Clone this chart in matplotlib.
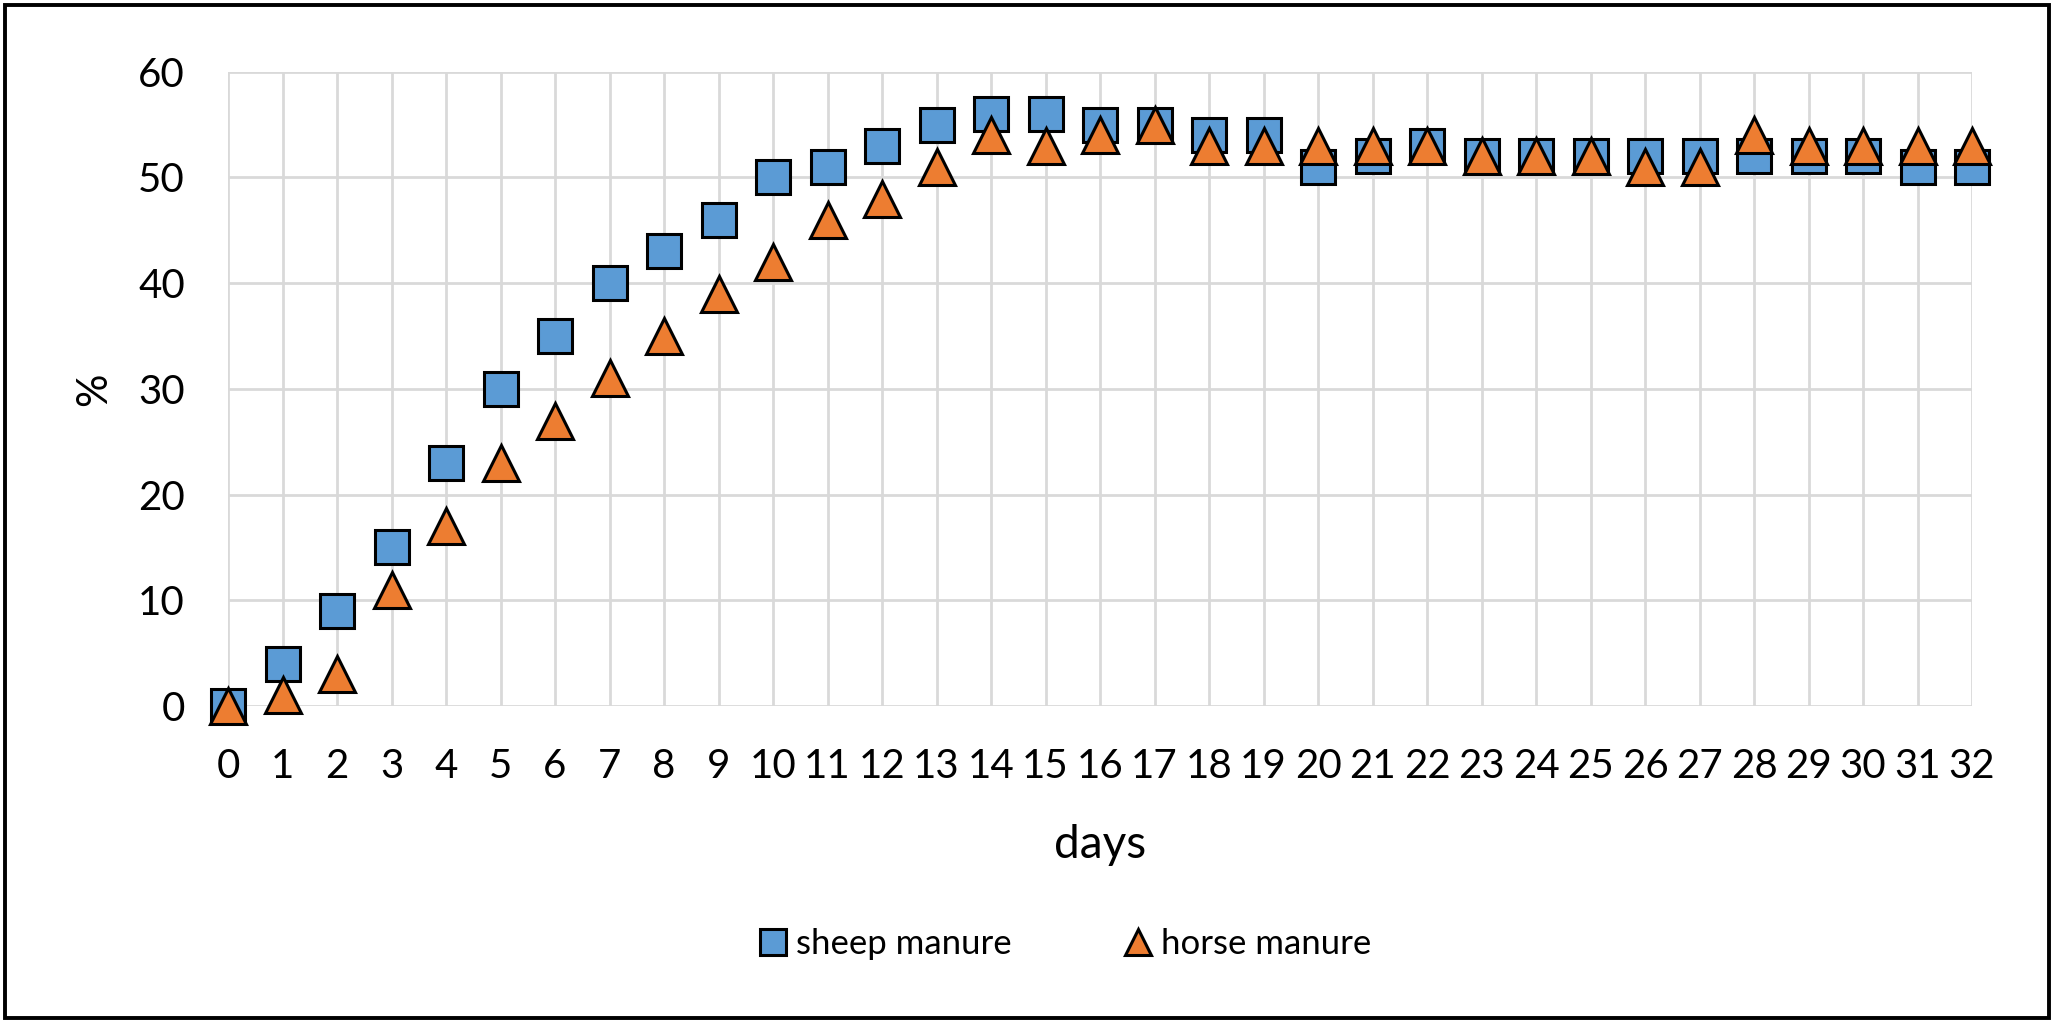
import matplotlib
matplotlib.use("Agg")
import matplotlib.pyplot as plt
from matplotlib.patches import Rectangle

plt.rcParams['font.family'] = ['Lato', 'DejaVu Sans']

# data
days = list(range(33))
sheep = [0, 4, 9, 15, 23, 30, 35, 40, 43, 46, 50, 51, 53, 55, 56, 56, 55,
         55, 54, 54, 51, 52, 53, 52, 52, 52, 52, 52, 52, 52, 52, 51, 51]
horse = [0, 1, 3, 11, 17, 23, 27, 31, 35, 39, 42, 46, 48, 51, 54, 53, 54,
         55, 53, 53, 53, 53, 53, 52, 52, 52, 51, 51, 54, 53, 53, 53, 53]
y_ticks = [0, 10, 20, 30, 40, 50, 60]

blue = '#5B9BD5'
orange = '#ED7D31'
grid_c = '#D9D9D9'

fig = plt.figure(figsize=(20.59, 10.31), dpi=100)
ax = fig.add_axes([228 / 2059, 1 - 706 / 1031, (1972 - 228) / 2059, (706 - 71.7) / 1031])

ax.plot(days, sheep, linestyle='none', marker='s', markersize=25,
        markerfacecolor=blue, markeredgecolor='black', markeredgewidth=2.2,
        label='sheep manure', clip_on=False, zorder=3)
ax.plot(days, horse, linestyle='none', marker='^', markersize=26,
        markerfacecolor=orange, markeredgecolor='black', markeredgewidth=2.2,
        label='horse manure', clip_on=False, zorder=4)

ax.set_xlim(0, 32)
ax.set_ylim(0, 60)
ax.set_xticks(days)
ax.set_yticks(y_ticks)
ax.grid(True, color=grid_c, linewidth=2)
ax.set_axisbelow(True)
for s in ax.spines.values():
    s.set_visible(False)
ax.tick_params(axis='both', length=0, labelsize=29, colors='black')
ax.tick_params(axis='y', pad=31)
ax.tick_params(axis='x', pad=30)

ax.set_ylabel('%', fontsize=30, labelpad=18)
ax.set_xlabel('days', fontsize=33, labelpad=28)

ax.legend(loc='center', bbox_to_anchor=(1066 / 2059, 1 - 944 / 1031),
          bbox_transform=fig.transFigure, ncol=2, frameon=False,
          fontsize=25, markerscale=0.74, handlelength=0.7, handletextpad=0.3,
          columnspacing=3.3, numpoints=1)

fig.patches.append(Rectangle((5 / 2059, 1 - 1018 / 1031), 2044 / 2059, 1013 / 1031,
                             transform=fig.transFigure, fill=False,
                             edgecolor='black', linewidth=2.8))

fig.savefig('out.png', dpi=100, facecolor='white')
